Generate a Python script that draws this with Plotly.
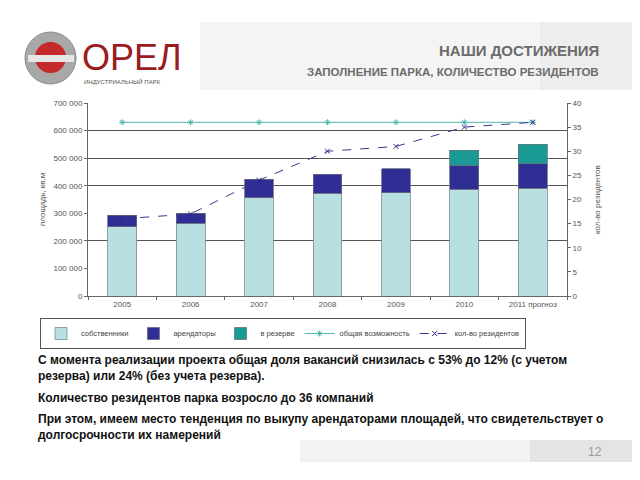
import plotly.graph_objects as go

years = ["2005", "2006", "2007", "2008", "2009", "2010", "2011 прогноз"]
owners = [251000, 264000, 357000, 372000, 374000, 387000, 391000]
tenants = [42000, 36000, 67000, 69000, 87000, 88000, 88000]
reserve = [None, None, None, None, None, 54000, 72000]
capacity = [36, 36, 36, 36, 36, 36, 36]
residents = [16, 17, 24, 30, 31, 35, 36]
left_ticks = [0, 100000, 200000, 300000, 400000, 500000, 600000, 700000]
left_ticklabels = ["0", "100 000", "200 000", "300 000", "400 000", "500 000", "600 000", "700 000"]
grid_vals = [200000, 400000, 500000, 600000, 700000]

W, H = 640, 480
OFF = 8  # page body margin in the browser
L, R, T, B = 88 - OFF, 567 - OFF, 103 - OFF, 296 - OFF


def px(x):
    return (x - OFF - L) / (R - L)


def py(y):
    return (B - (y - OFF)) / (B - T)


FONT = "Liberation Sans, Arial, sans-serif"

fig = go.Figure()
fig.add_trace(go.Bar(x=years, y=owners, name="собственники", marker=dict(color="#b8dfe2", line=dict(color="#7a8a8c", width=0.8))))
fig.add_trace(go.Bar(x=years, y=tenants, name="арендаторы", marker=dict(color="#2e2e94", line=dict(color="#6a6a80", width=0.8))))
fig.add_trace(go.Bar(x=years, y=reserve, name="в резерве", marker=dict(color="#1b9994", line=dict(color="#5a7a7a", width=0.8))))
fig.add_trace(go.Scatter(x=years, y=capacity, name="общая возможность", yaxis="y2", mode="lines+markers",
                         line=dict(color="#4fb8ae", width=1),
                         marker=dict(symbol="asterisk-open", size=5, color="#4fb8ae", line=dict(color="#4fb8ae", width=1))))
fig.add_trace(go.Scatter(x=years, y=residents, name="кол-во резидентов", yaxis="y2", mode="lines+markers",
                         line=dict(color="#3a3a8a", width=1, dash="dash"),
                         marker=dict(symbol="x-thin-open", size=5, color="#2a2a8a", line=dict(color="#2a2a8a", width=1))))
fig.add_trace(go.Scatter(x=[years[0]], y=[None], yaxis="y3", showlegend=False, hoverinfo="skip"))


def P(**kw):
    kw.setdefault("xref", "paper")
    kw.setdefault("yref", "paper")
    return kw


shapes = [
    P(type="rect", x0=px(200), x1=px(660), y0=py(90), y1=py(22), fillcolor="#f4f4f4", line=dict(width=0), layer="below"),
    P(type="rect", x0=px(540), x1=px(660), y0=py(90), y1=py(22), fillcolor="#ededed", line=dict(width=0), layer="below"),
    P(type="rect", x0=px(300), x1=px(660), y0=py(462), y1=py(440), fillcolor="#f2f2f2", line=dict(width=0), layer="below"),
    P(type="rect", x0=px(530), x1=px(660), y0=py(462), y1=py(440), fillcolor="#e4e4e4", line=dict(width=0), layer="below"),
    P(type="circle", x0=px(25), x1=px(76), y0=py(84), y1=py(32), fillcolor="#a8a8a8", line=dict(color="#8a8a8a", width=1), layer="below"),
    P(type="circle", x0=px(35), x1=px(66), y0=py(73), y1=py(42), fillcolor="#c42a2a", line=dict(width=0), layer="below"),
    P(type="rect", x0=px(28), x1=px(74), y0=py(62), y1=py(55), fillcolor="#e6e6e6", line=dict(width=0), layer="below"),
]

annotations = [
    P(text="ОРЕЛ", x=px(80), y=py(57), xanchor="left", yanchor="middle", showarrow=False,
      font=dict(family="Liberation Sans Narrow, Liberation Sans, Arial", size=36, color="#9b1b1f")),
    P(text="ИНДУСТРИАЛЬНЫЙ ПАРК", x=px(82), y=py(81), xanchor="left", yanchor="middle", showarrow=False,
      font=dict(family=FONT, size=6, color="#555555")),
    P(text="<b>НАШИ ДОСТИЖЕНИЯ</b>", x=px(601), y=py(51), xanchor="right", yanchor="middle", showarrow=False,
      font=dict(family=FONT, size=15, color="#6b6b6b")),
    P(text="<b>ЗАПОЛНЕНИЕ ПАРКА, КОЛИЧЕСТВО РЕЗИДЕНТОВ</b>", x=px(601), y=py(72), xanchor="right", yanchor="middle",
      showarrow=False, font=dict(family=FONT, size=11.5, color="#6b6b6b")),
    P(text="площадь, кв.м", x=px(42), y=py(200), xanchor="center", yanchor="middle", textangle=-90, showarrow=False,
      font=dict(family=FONT, size=8, color="#555555")),
    P(text="кол-во резидентов", x=px(597), y=py(200), xanchor="center", yanchor="middle", textangle=-90, showarrow=False,
      font=dict(family=FONT, size=8, color="#555555")),
    P(text="<b>С момента реализации проекта общая доля вакансий снизилась с 53% до 12% (с учетом<br>резерва) или 24% (без учета резерва).</b>",
      x=px(36), y=py(351), xanchor="left", yanchor="top", align="left", showarrow=False,
      font=dict(family=FONT, size=12, color="#111111")),
    P(text="<b>Количество резидентов парка возросло до 36 компаний</b>",
      x=px(36), y=py(389), xanchor="left", yanchor="top", align="left", showarrow=False,
      font=dict(family=FONT, size=12, color="#111111")),
    P(text="<b>При этом, имеем место тенденция по выкупу арендаторами площадей, что свидетельствует о<br>долгосрочности их намерений</b>",
      x=px(36), y=py(410), xanchor="left", yanchor="top", align="left", showarrow=False,
      font=dict(family=FONT, size=12, color="#111111")),
    P(text="12", x=px(604), y=py(452), xanchor="right", yanchor="middle", showarrow=False,
      font=dict(family=FONT, size=12, color="#9a9a9a")),
]

fig.update_layout(
    width=W, height=H,
    margin=dict(l=L, r=W - R, t=T, b=H - B, pad=0),
    paper_bgcolor="white", plot_bgcolor="rgba(0,0,0,0)",
    barmode="stack", bargap=0.58,
    showlegend=True,
    legend=dict(orientation="h", x=px(40), y=py(318), xanchor="left", yanchor="top", traceorder="normal",
                bordercolor="#555555", borderwidth=1, bgcolor="white",
                font=dict(family=FONT, size=7.5, color="#444444"), itemwidth=30, tracegroupgap=0),
    xaxis=dict(type="category", showline=True, linecolor="#666666", linewidth=1, ticks="outside", ticklen=3,
               tickcolor="#666666", tickson="boundaries", showgrid=False, tickangle=0,
               tickfont=dict(family=FONT, size=8, color="#555555")),
    yaxis=dict(range=[0, 700000], tickvals=left_ticks, ticktext=left_ticklabels, showgrid=False,
               showline=True, linecolor="#666666", linewidth=1, ticks="outside", ticklen=3, tickcolor="#666666",
               tickfont=dict(family=FONT, size=8, color="#555555"), zeroline=False),
    yaxis2=dict(range=[0, 40], dtick=5, overlaying="y", side="right", showgrid=False,
                showline=True, linecolor="#666666", linewidth=1, ticks="outside", ticklen=3, tickcolor="#666666",
                tickfont=dict(family=FONT, size=8, color="#555555"), zeroline=False),
    yaxis3=dict(range=[0, 700000], tickvals=grid_vals, overlaying="y", showgrid=True, gridcolor="#555555",
                gridwidth=1, showticklabels=False, ticks="", showline=False, zeroline=False),
    shapes=shapes,
    annotations=annotations,
)

fig.write_html("out.html")
